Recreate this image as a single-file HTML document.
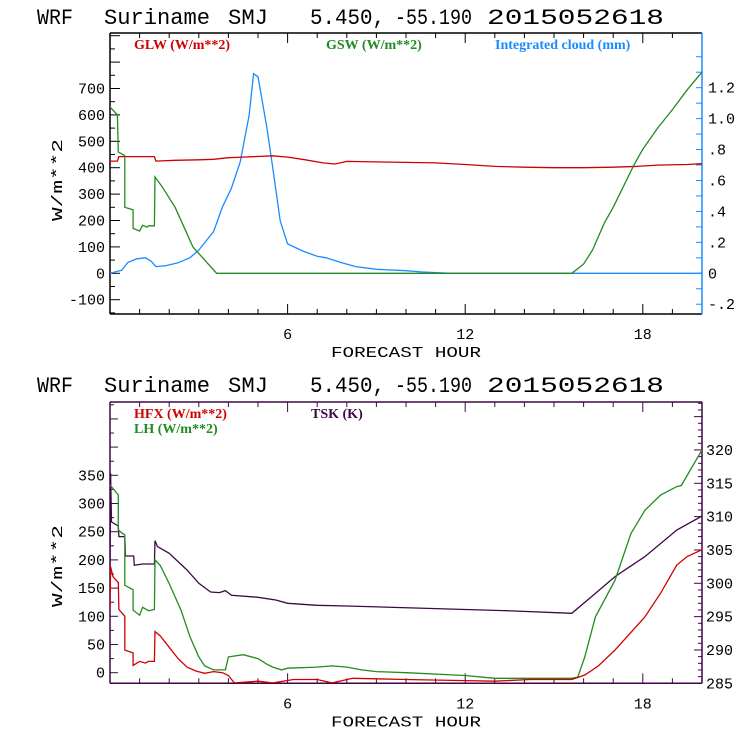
<!DOCTYPE html>
<html><head><meta charset="utf-8"><style>
body{margin:0;background:#fff}
svg{display:block}
.t{font-family:"Liberation Mono",monospace;font-size:22px;fill:#000}
.k{font-family:"Liberation Mono",monospace;font-size:15px;fill:#000}
.lg{font-family:"Liberation Serif",serif;font-size:14px;font-weight:bold}
</style></head><body>
<svg id="c" width="740" height="740" viewBox="0 0 740 740"></svg>
<script>
// ---------- data: top chart ----------
const glwHours=[0,0.25,0.3,1.5,1.55,2.2,3.0,3.5,4.0,4.5,5.5,6.0,6.5,7.2,7.6,8.0,9.0,10.0,11.0,12.0,13.0,14.0,15.0,16.0,17.0,17.8,18.5,19.5,20];
const glwValues=[425,425,442,442,425,428,430,432,438,440,445,440,432,418,414,424,422,420,418,412,405,402,400,400,402,405,410,412,415];
const gswHours=[0,0.25,0.28,0.5,0.5,0.78,0.78,1.0,1.1,1.25,1.3,1.5,1.52,1.75,2.2,2.6,2.8,3.2,3.6,15.6,16.0,16.3,16.7,17.0,17.7,18.0,18.5,19.0,19.5,20];
const gswValues=[630,600,460,445,250,240,170,160,182,175,180,180,365,330,250,150,100,50,0,0,35,88,190,250,410,470,550,620,695,762];
const cloudHours=[0,0.4,0.6,0.9,1.2,1.4,1.55,1.9,2.3,2.7,3.0,3.5,3.8,4.1,4.4,4.7,4.85,5.0,5.3,5.5,5.75,6.0,6.5,7.0,7.3,7.8,8.3,9.0,10.0,10.5,11.0,11.5,20];
const cloudMm=[0,0.02,0.07,0.094,0.1,0.077,0.043,0.05,0.068,0.1,0.15,0.27,0.43,0.55,0.72,1.02,1.29,1.27,0.94,0.68,0.34,0.19,0.145,0.11,0.1,0.07,0.043,0.026,0.017,0.009,0.004,0,0];
const topLeftTicks=[700,600,500,400,300,200,100,0,-100];
const topRightTicks=[1.2,1.0,0.8,0.6,0.4,0.2,0,-0.2];
const topRightLabels=["1.2","1.0",".8",".6",".4",".2","0","-.2"];
// ---------- data: bottom chart ----------
const hfxHours=[0,0.02,0.1,0.28,0.3,0.5,0.5,0.78,0.78,1.0,1.2,1.3,1.5,1.52,1.7,2.0,2.3,2.6,2.9,3.2,3.5,3.8,4.0,4.2,5.0,5.5,6.2,7.0,7.5,8.2,10,12,13,14.2,15.6,16.04,16.5,17.06,18.07,18.6,19.15,19.5,20];
const hfxValues=[111,188,170,160,112,100,40,35,13,20,17,20,20,73,65,45,25,10,3,-1,2,0,-5,-18,-15,-18,-12,-12,-18,-10,-12,-14,-15,-12,-12,-4,12,40,99,141,191,206,218];
const lhHours=[0,0.28,0.28,0.5,0.5,0.78,0.78,1.0,1.1,1.3,1.5,1.52,1.7,2.0,2.4,2.7,3.0,3.2,3.5,3.9,4.0,4.5,5.0,5.3,5.5,5.8,6.0,7.0,7.5,8.0,8.5,9.0,10,12,13,15.6,15.8,16.04,16.4,17.06,17.6,18.07,18.6,19.15,19.3,20];
const lhValues=[333,315,253,244,155,147,111,102,116,110,112,200,190,158,111,64,28,12,5,5,28,32,25,15,10,5,8,10,12,10,5,2,0,-5,-10,-10,-8,28,99,164,247,288,315,330,332,395];
const tskHours=[0,0.02,0.05,0.28,0.3,0.5,0.52,0.8,0.82,1.1,1.5,1.52,1.6,2.0,2.6,3.0,3.4,3.7,3.9,4.1,5.0,5.6,6.0,7.0,8.0,13.3,15.6,16.27,17.06,18.07,19.15,20];
const tskValues=[302,316.5,309.2,308.6,307,307,304.1,304.1,302.7,302.9,302.9,306.4,305.5,304.5,302,300,298.7,298.6,298.9,298.2,297.9,297.5,297,296.7,296.6,295.9,295.5,298,301,304,308,310.1];
const botLeftTicks=[350,300,250,200,150,100,50,0];
const botRightTicks=[320,315,310,305,300,295,290,285];
const xTicks=[6,12,18];

const NS="http://www.w3.org/2000/svg";
const svg=document.getElementById('c');
function el(tag,attrs,parent,text){const e=document.createElementNS(NS,tag);for(const k in attrs)e.setAttribute(k,attrs[k]);if(text!==undefined)e.textContent=text;(parent||svg).appendChild(e);return e;}

const X0=110,X1=702;
const xs=h=>X0+h*(X1-X0)/20;
const yTop=v=>273.3-v*0.264;
const yCloud=v=>273.3-v*154.7;
const yBot=v=>672.7-v*0.564;
const yK=v=>683.3-(v-285)*6.667;

function path(hours,vals,ys,color,name,clipId){
  let d='';hours.forEach((h,i)=>{d+=(i?'L':'M')+xs(h).toFixed(1)+' '+ys(vals[i]).toFixed(1);});
  const p=el('path',{d:d,fill:'none',stroke:color,'stroke-width':1.3,'clip-path':'url(#'+clipId+')'});
  
  
}
const defs=el('defs',{});
const c1=el('clipPath',{id:'clipTop'},defs);el('rect',{x:X0,y:33,width:X1-X0,height:281},c1);
const c2=el('clipPath',{id:'clipBot'},defs);el('rect',{x:X0,y:402,width:X1-X0,height:281.3},c2);

function title(y){
  const g=el('g',{});
  
  
  [["WRF",37,36],["Suriname",104,106],["SMJ",228,40],["5.450,",310,75],["-55.190",395,77],["2015052618",487,177]].forEach(a=>{
    el('text',{x:a[1],y:y,class:'t',textLength:a[2],lengthAdjust:'spacingAndGlyphs'},g,a[0]);
  });
}
function frame(top,bot,leftColor,rightColor,name){
  const g=el('g',{});
  
  
  el('line',{x1:X0,y1:top,x2:X1,y2:top,stroke:leftColor,'stroke-width':1.5},g);
  el('line',{x1:X0,y1:bot,x2:X1,y2:bot,stroke:leftColor,'stroke-width':1.5},g);
  el('line',{x1:X0,y1:top,x2:X0,y2:bot,stroke:leftColor,'stroke-width':1.5},g);
  el('line',{x1:X1,y1:top,x2:X1,y2:bot,stroke:rightColor,'stroke-width':1.5},g);
  for(let h=1;h<20;h++){const L=(h%6===0)?10:5;
    el('line',{x1:xs(h),y1:bot,x2:xs(h),y2:bot-L,stroke:leftColor},g);
    el('line',{x1:xs(h),y1:top,x2:xs(h),y2:top+L,stroke:leftColor},g);}
  xTicks.forEach(h=>{const t=el('text',{x:xs(h),y:bot+25,class:'k','font-size':'19','text-anchor':'middle'},g,String(h));
    });
  const xt=el('text',{x:406,y:bot+43,class:'k','font-size':'18','text-anchor':'middle',textLength:150,lengthAdjust:'spacingAndGlyphs'},g,'FORECAST HOUR');
  
}
function yTitle(cy){
  const t=el('text',{x:0,y:0,class:'k','font-size':'22','text-anchor':'middle',transform:'translate(62,'+cy+') rotate(-90)',textLength:82,lengthAdjust:'spacingAndGlyphs'},svg,'W/m**2');
  
}
function legend(txt,x,y,color){
  const t=el('text',{x:x,y:y,class:'lg',fill:color},svg,txt);
  
}

// ---- top chart ----
title(24);
frame(33,314,'#000','#1a8cff','top-frame');
for(let v=-150;v<=900;v+=50){const y=yTop(v);if(y<33||y>314)continue;el('line',{x1:X0,y1:y,x2:X0+(v%100===0?10:5),y2:y,stroke:'#000'});}
topLeftTicks.forEach(v=>{const t=el('text',{x:105,y:yTop(v)+5,class:'k','text-anchor':'end'},svg,String(v));
  });
for(let v=-0.2;v<=1.5;v+=0.1){const y=yCloud(v);if(y<33||y>314)continue;el('line',{x1:X1,y1:y,x2:X1-6,y2:y,stroke:'#1a8cff'});}
topRightTicks.forEach((v,i)=>{const t=el('text',{x:708,y:yCloud(v)+5,class:'k'},svg,topRightLabels[i]);
  });
yTitle(180);
legend('GLW (W/m**2)',134,49,'#d00000');
legend('GSW (W/m**2)',326,49,'#228b22');
legend('Integrated cloud (mm)',495,49,'#1a8cff');
path(cloudHours,cloudMm,yCloud,'#1a8cff','cloud-line','clipTop');
path(glwHours,glwValues,yTop,'#d00000','glw-line','clipTop');
path(gswHours,gswValues,yTop,'#228b22','gsw-line','clipTop');

// ---- bottom chart ----
title(392);
frame(402,683.3,'#3d0845','#3d0845','bottom-frame');
for(let v=-25;v<=475;v+=25){const y=yBot(v);if(y<402||y>683)continue;el('line',{x1:X0,y1:y,x2:X0+(v%50===0?8:4),y2:y,stroke:'#3d0845'});}
botLeftTicks.forEach(v=>{const t=el('text',{x:105,y:yBot(v)+5,class:'k','text-anchor':'end'},svg,String(v));
  });
for(let v=285;v<=327;v+=1){const y=yK(v);if(y<402||y>683.3)continue;el('line',{x1:X1,y1:y,x2:X1-(v%5===0?8:4),y2:y,stroke:'#3d0845'});}
botRightTicks.forEach(v=>{const t=el('text',{x:706,y:yK(v)+5,class:'k','font-size':'12'},svg,String(v));
  });
yTitle(566);
legend('HFX (W/m**2)',134,418,'#d00000');
legend('LH  (W/m**2)',134,433,'#228b22');
legend('TSK (K)',311,418,'#3d0845');
path(tskHours,tskValues,yK,'#3d0845','tsk-line','clipBot');
path(lhHours,lhValues,yBot,'#228b22','lh-line','clipBot');
path(hfxHours,hfxValues,yBot,'#d00000','hfx-line','clipBot');
</script>
</body></html>
